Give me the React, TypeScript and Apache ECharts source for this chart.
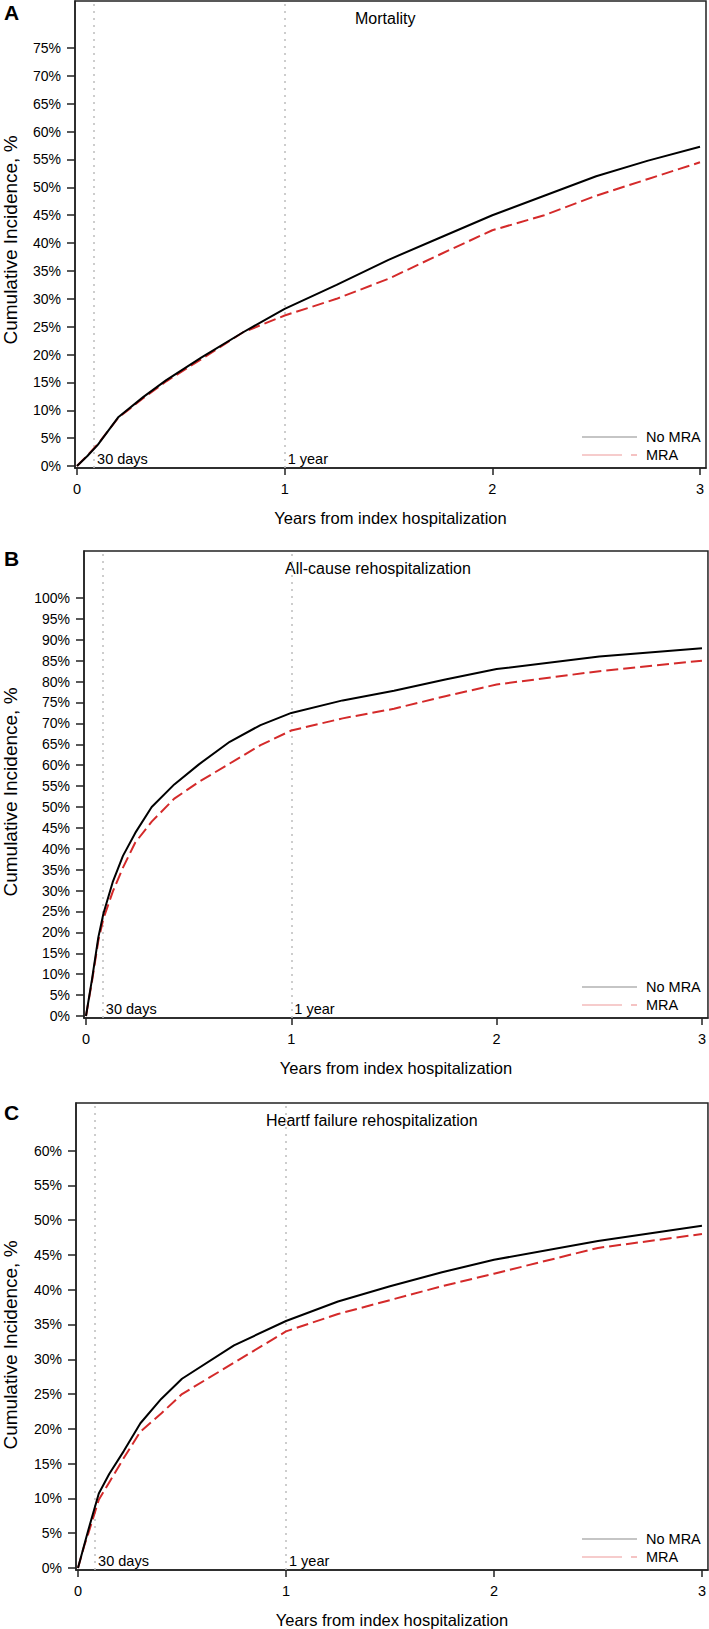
import React, { useEffect, useRef } from "react";
import * as echarts from "echarts";

// ---------- DATA ----------
const xTickValues = [0, 1, 2, 3];
const refLines = [30 / 365, 1];
const refLabels = ["30 days", "1 year"];

const mortTicks = [0, 5, 10, 15, 20, 25, 30, 35, 40, 45, 50, 55, 60, 65, 70, 75];
const rehospTicks = [0, 5, 10, 15, 20, 25, 30, 35, 40, 45, 50, 55, 60, 65, 70, 75, 80, 85, 90, 95, 100];
const hfTicks = [0, 5, 10, 15, 20, 25, 30, 35, 40, 45, 50, 55, 60];

const mortTimes = [0, 0.05, 0.1, 0.2, 0.32, 0.43, 0.6, 0.8, 1, 1.25, 1.5, 1.75, 2, 2.25, 2.5, 2.75, 3];
const mortNoMRA = [0, 1.8, 3.8, 8.8, 12.4, 15.4, 19.5, 24, 28.2, 32.5, 37, 41, 45, 48.5, 52, 54.8, 57.3];
const mortMRA = [0, 1.9, 3.9, 8.7, 12.2, 15.2, 19.2, 24, 27, 30, 33.6, 38, 42.3, 45, 48.5, 51.5, 54.5];

const rehospTimes = [0, 0.03, 0.06, 0.085, 0.13, 0.18, 0.24, 0.32, 0.43, 0.55, 0.7, 0.85, 1, 1.25, 1.5, 1.75, 2, 2.5, 3];
const rehospNoMRA = [0, 9, 18.8, 24.5, 32, 38.3, 43.8, 50, 55.4, 60.2, 65.6, 69.6, 72.5, 75.5, 77.8, 80.5, 83, 86, 88];
const rehospMRA = [0, 8.5, 18, 23.3, 29.7, 35.5, 41.5, 46.5, 52, 56, 60.4, 64.8, 68.3, 71.2, 73.5, 76.5, 79.3, 82.5, 85];

const hfTimes = [0, 0.03, 0.05, 0.1, 0.15, 0.22, 0.3, 0.4, 0.5, 0.75, 1, 1.25, 1.5, 1.75, 2, 2.5, 3];
const hfNoMRA = [0, 3.3, 5.5, 10.7, 13.5, 16.8, 20.8, 24.3, 27.2, 32, 35.5, 38.3, 40.5, 42.5, 44.3, 47, 49.2];
const hfMRA = [0, 3.2, 5, 9.8, 12.3, 15.8, 19.6, 22.2, 25, 29.5, 34, 36.5, 38.5, 40.5, 42.3, 46, 48];

const panelLetters = ["A", "B", "C"];
const panelTitles = ["Mortality", "All-cause rehospitalization", "Heartf failure rehospitalization"];
const seriesNames = ["No MRA", "MRA"];
const yTitle = "Cumulative Incidence, %";
const xTitle = "Years from index hospitalization";

// ---------- LAYOUT ----------
const FONT = '"Liberation Sans", Arial, sans-serif';
const panels = [
  { left: 75, top: 1, right: 706, bottom: 468, xMin: -0.0096, xMax: 3.0289, yMin: -0.36, yMax: 83.44,
    ticks: mortTicks, times: mortTimes, a: mortNoMRA, b: mortMRA, titleX: 355, letterY: 12, yTitleY: 240 },
  { left: 84, top: 551, right: 708, bottom: 1018, xMin: -0.0097, xMax: 3.0292, yMin: -0.48, yMax: 111.24,
    ticks: rehospTicks, times: rehospTimes, a: rehospNoMRA, b: rehospMRA, titleX: 285, letterY: 558, yTitleY: 792 },
  { left: 76, top: 1103, right: 708, bottom: 1570, xMin: -0.0096, xMax: 3.0288, yMin: -0.29, yMax: 66.83,
    ticks: hfTicks, times: hfTimes, a: hfNoMRA, b: hfMRA, titleX: 266, letterY: 1112, yTitleY: 1345 },
];

export default function App() {
  const ref = useRef<HTMLDivElement>(null);
  useEffect(() => {
    document.body.style.margin = "0";
    if (!ref.current) return;
    const chart = echarts.init(ref.current, null, { renderer: "svg" });

    const grid: any[] = [];
    const xAxis: any[] = [];
    const yAxis: any[] = [];
    const series: any[] = [];
    const graphic: any[] = [];

    panels.forEach((p, i) => {
      grid.push({
        left: p.left, top: p.top, width: p.right - p.left, height: p.bottom - p.top,
        show: true, borderColor: "#222", borderWidth: 1.5, backgroundColor: "transparent",
      });
      xAxis.push({
        type: "value", gridIndex: i, min: p.xMin, max: p.xMax,
        axisLine: { show: true, onZero: false, lineStyle: { color: "#222", width: 1.5 } },
        axisTick: { show: true, length: 7, customValues: xTickValues, lineStyle: { color: "#222", width: 1.5 } },
        axisLabel: { customValues: xTickValues, margin: 13, color: "#000", fontSize: 14.5, fontFamily: FONT },
        splitLine: { show: false },
      });
      yAxis.push({
        type: "value", gridIndex: i, min: p.yMin, max: p.yMax,
        axisLine: { show: true, onZero: false, lineStyle: { color: "#222", width: 1.5 } },
        axisTick: { show: true, length: 8, customValues: p.ticks, lineStyle: { color: "#222", width: 1.5 } },
        axisLabel: { customValues: p.ticks, margin: 14, color: "#000", fontSize: 14, fontFamily: FONT,
          formatter: (v: number) => v + "%" },
        splitLine: { show: false },
      });
      series.push({
        type: "line", name: seriesNames[0], xAxisIndex: i, yAxisIndex: i,
        data: p.times.map((t, k) => [t, p.a[k]]),
        showSymbol: false, symbol: "none", z: 4,
        lineStyle: { color: "#000", width: 2 },
        markLine: {
          silent: true, symbol: "none", label: { show: false }, z: 1,
          lineStyle: { type: [2, 5], color: "#bdbdbd", width: 1.5 },
          data: refLines.map((v) => ({ xAxis: v })),
        },
      });
      series.push({
        type: "line", name: seriesNames[1], xAxisIndex: i, yAxisIndex: i,
        data: p.times.map((t, k) => [t, p.b[k]]),
        showSymbol: false, symbol: "none", z: 3,
        lineStyle: { color: "#d42a2a", width: 2, type: [12, 5] },
      });

      graphic.push({ type: "text", x: 4, y: p.letterY,
        style: { text: panelLetters[i], font: `bold 21px ${FONT}`, fill: "#000", verticalAlign: "middle", align: "left" } });
      graphic.push({ type: "text", x: p.titleX, y: p.top + 17,
        style: { text: panelTitles[i], font: `16px ${FONT}`, fill: "#000", verticalAlign: "middle", align: "left" } });
      graphic.push({ type: "text", x: 10, y: p.yTitleY, rotation: Math.PI / 2,
        style: { text: yTitle, font: `19px ${FONT}`, fill: "#000", verticalAlign: "middle", align: "center" } });
      graphic.push({ type: "text", x: (p.left + p.right) / 2, y: p.bottom + 50,
        style: { text: xTitle, font: `16.5px ${FONT}`, fill: "#000", verticalAlign: "middle", align: "center" } });
      const ly1 = p.bottom - 31;
      const ly2 = p.bottom - 13;
      graphic.push({ type: "line", shape: { x1: 582, y1: ly1, x2: 637, y2: ly1 }, style: { stroke: "#8c8c8c", lineWidth: 1.2 } });
      graphic.push({ type: "line", shape: { x1: 582, y1: ly2, x2: 622, y2: ly2 }, style: { stroke: "#ee9a9a", lineWidth: 1.2 } });
      graphic.push({ type: "line", shape: { x1: 631, y1: ly2, x2: 637, y2: ly2 }, style: { stroke: "#ee9a9a", lineWidth: 1.2 } });
      graphic.push({ type: "text", x: 646, y: ly1,
        style: { text: seriesNames[0], font: `14.5px ${FONT}`, fill: "#000", verticalAlign: "middle", align: "left" } });
      graphic.push({ type: "text", x: 646, y: ly2,
        style: { text: seriesNames[1], font: `14.5px ${FONT}`, fill: "#000", verticalAlign: "middle", align: "left" } });
    });

    chart.setOption({ animation: false, backgroundColor: "#fff", grid, xAxis, yAxis, series });

    // reference-line labels, placed through the axes' own scales
    panels.forEach((p, i) => {
      refLines.forEach((v, k) => {
        const pt = chart.convertToPixel({ gridIndex: i } as any, [v, 0]) as number[];
        graphic.push({ type: "text", x: pt[0] + 3, y: pt[1] - 7,
          style: { text: refLabels[k], font: `14.5px ${FONT}`, fill: "#000", verticalAlign: "middle", align: "left" } });
      });
    });
    chart.setOption({ graphic });
    return () => chart.dispose();
  }, []);
  return <div ref={ref} style={{ width: 709, height: 1629 }} />;
}
